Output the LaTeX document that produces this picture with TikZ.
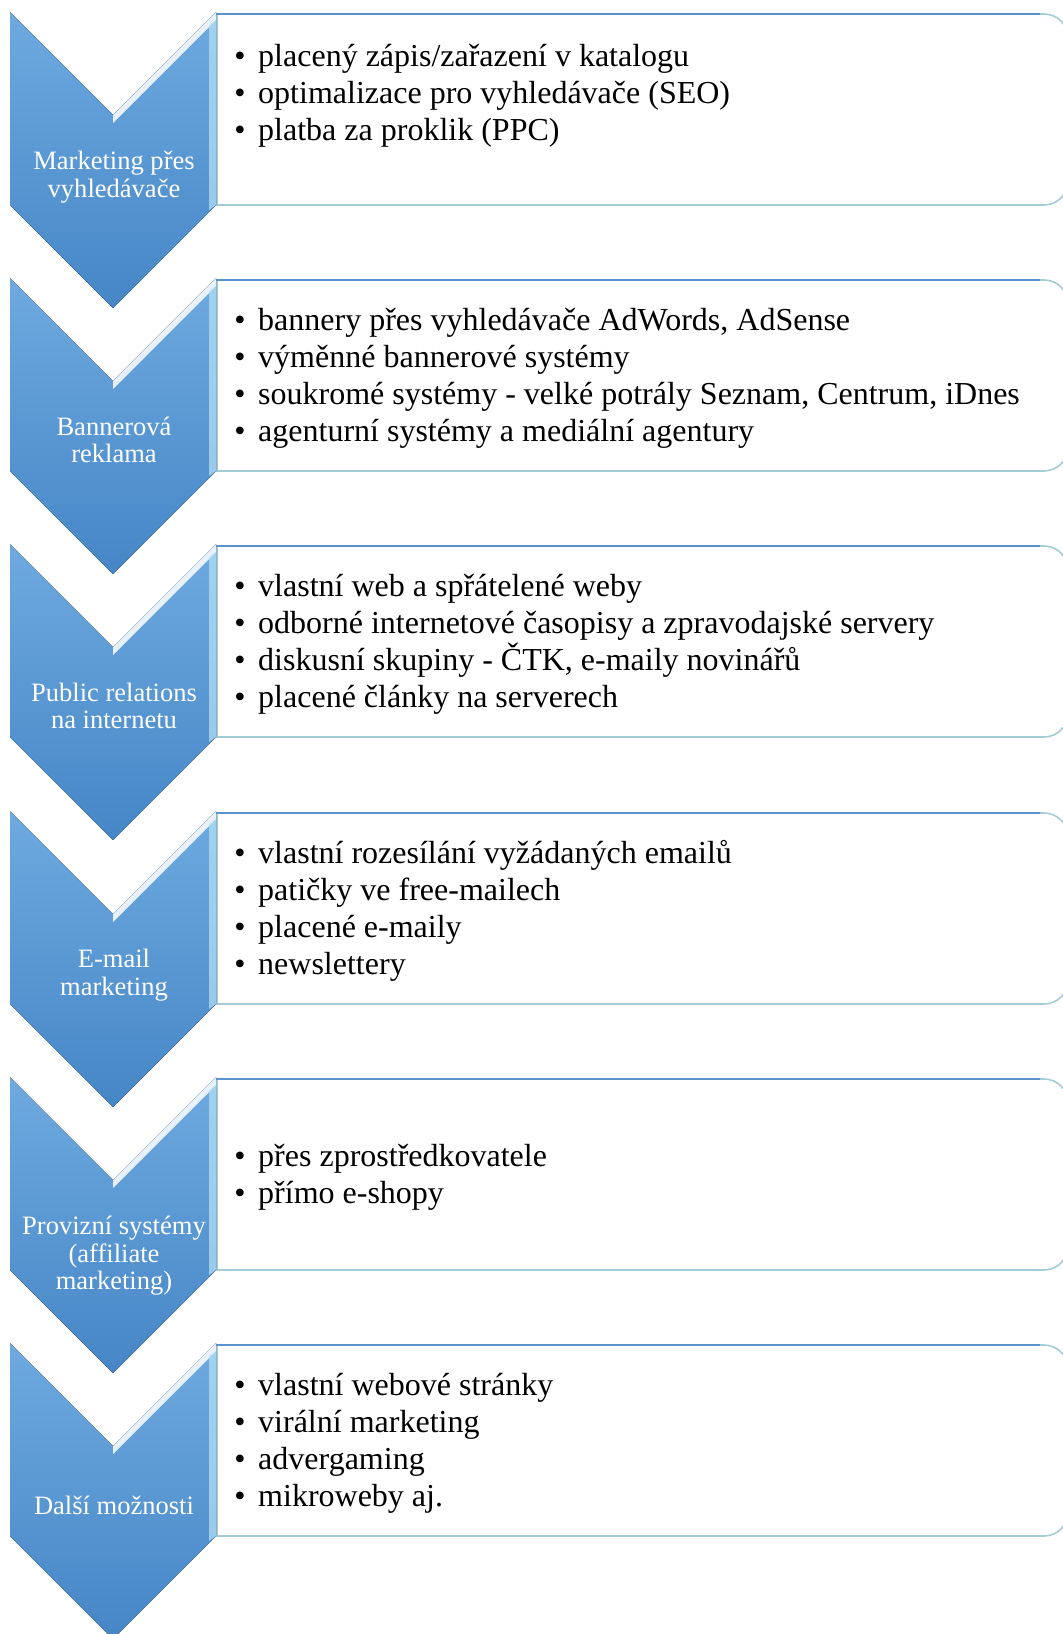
\documentclass[tikz,border=0pt]{standalone}
\usepackage{fontspec}
\setmainfont{Liberation Serif}
\usetikzlibrary{calc}
\definecolor{chevtop}{HTML}{6EAAE0}
\definecolor{chevbot}{HTML}{4686C6}
\definecolor{boxtop}{HTML}{5B93D0}
\definecolor{boxbot}{HTML}{A3CCD6}
\definecolor{bevel}{HTML}{B9E2F7}
\tikzset{
  chevfill/.style={top color=chevtop, bottom color=chevbot, draw=none},
  chevlabel/.style={text=white, align=center, inner sep=0pt, font=\fontsize{19.9}{20.6}\selectfont},
  item/.style={anchor=base west, inner sep=0pt, font=\fontsize{24}{27.75}\selectfont},
}
\newcommand{\chev}[4]{ \fill[chevfill] (10,#1) -- (113,#1+103) -- (216,#1) -- (216,#1+193) -- (113,#1+296) -- (10,#1+193) -- cycle; \fill[white, opacity=0.85] (113,#1+103) -- (216,#1) -- (216,#1+8) -- (113,#1+111) -- cycle; \fill[bevel, opacity=0.7] (209,#1+13) -- (216,#1+8) -- (216,#1+193) -- (209,#1+198) -- cycle; \node[chevlabel] (#2) at (114,#1+#3) {#4};}
\newcommand{\panel}[4]{ \draw[boxbot, line width=1pt] (217,#1+2) -- (217,#1+193); \draw[boxbot, line width=1.2pt, rounded corners=18pt] (216,#1+2) -- (1068,#1+2) -- (1068,#1+193) -- (216,#1+193); \draw[boxtop, line width=1.5pt] (216,#1+2) -- (1040,#1+2); \foreach \t [count=\k] in {#4} \node[item] (#2-\k) at (234,#1+#3+37*\k-37) {\makebox[18pt][l]{\textbullet}\t};}

\begin{document}
\begin{tikzpicture}[x=0.75pt, y=-0.75pt]
\useasboundingbox (0,0) rectangle (1063,1634);
% stage1
\panel{12}{list1}{55}{placený zápis/zařazení v katalogu, optimalizace pro vyhledávače (SEO), platba za proklik (PPC)}
\chev{12}{search}{165}{Marketing přes\\vyhledávače}
% stage2
\panel{278}{list2}{52}{{bannery přes vyhledávače AdWords, AdSense}, výměnné bannerové systémy, {soukromé systémy - velké potrály Seznam, Centrum, iDnes}, agenturní systémy a mediální agentury}
\chev{278}{banner}{162}{Bannerová\\reklama}
% stage3
\panel{544}{list3}{52}{vlastní web a spřátelené weby, odborné internetové časopisy a zpravodajské servery, {diskusní skupiny - ČTK, e-maily novinářů}, placené články na serverech}
\chev{544}{pr}{162}{Public relations\\na internetu}
% stage4
\panel{811}{list4}{52}{vlastní rozesílání vyžádaných emailů, patičky ve free-mailech, placené e-maily, newslettery}
\chev{811}{email}{164}{E-mail\\marketing}
% stage5
\panel{1077}{list5}{89}{přes zprostředkovatele, přímo e-shopy}
\chev{1077}{affiliate}{179}{Provizní systémy\\(affiliate\\marketing)}
% stage6
\panel{1343}{list6}{52}{vlastní webové stránky, virální marketing, advergaming, mikroweby aj.}
\chev{1343}{other}{162}{Další možnosti}
\end{tikzpicture}
\end{document}
